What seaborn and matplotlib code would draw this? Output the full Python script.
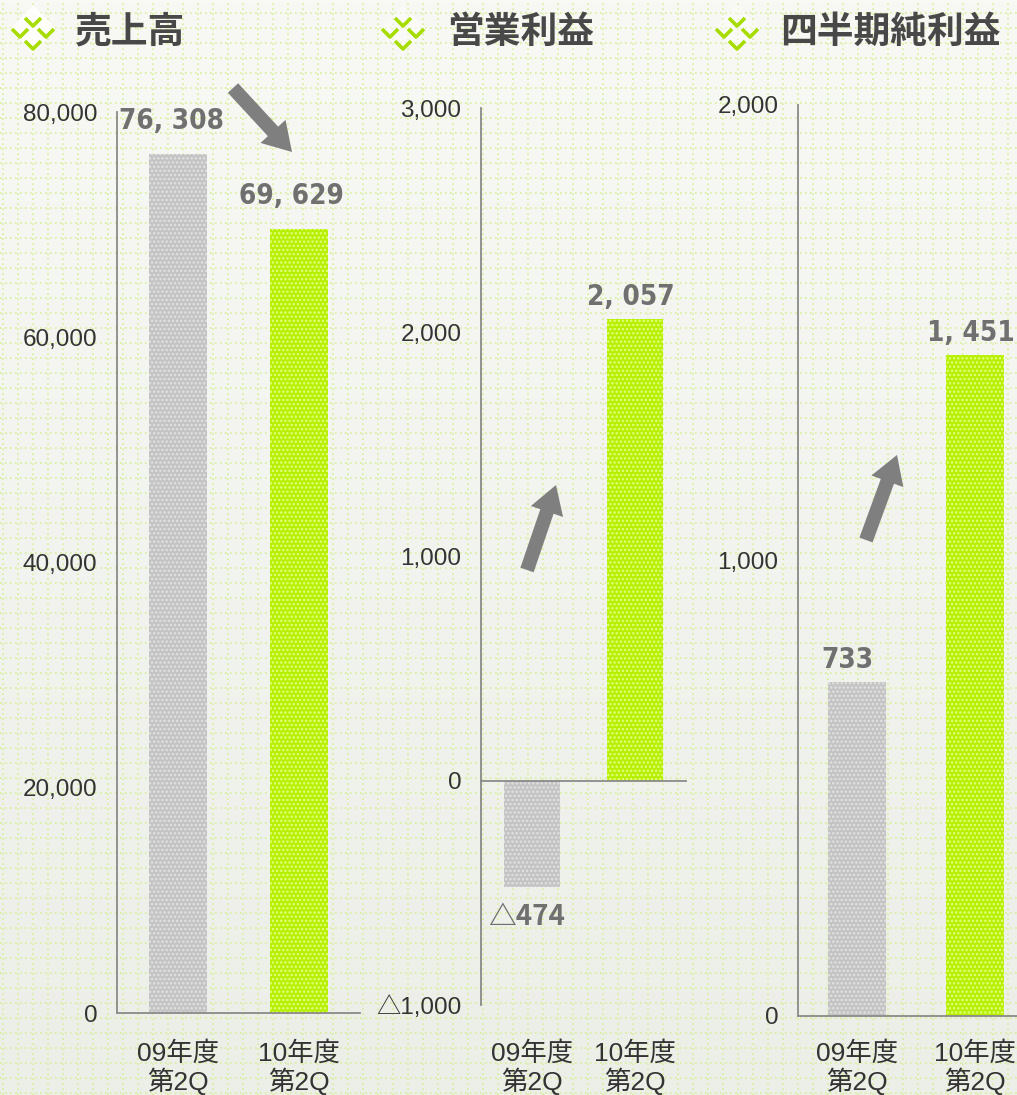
import numpy as np
import pandas as pd
import matplotlib
matplotlib.use("Agg")
import matplotlib.pyplot as plt
import matplotlib.transforms as mtransforms
from matplotlib import font_manager as fm
from matplotlib.patches import FancyArrow, Polygon
import seaborn as sns

# data
periods = ["09年度\n第2Q", "10年度\n第2Q"]
titles = ["売上高", "営業利益", "四半期純利益"]
sales = [76308, 69629]
op_income = [-474, 2057]
net_income = [733, 1451]
value_labels = [["76, 308", "69, 629"], ["△474", "2, 057"], ["733", "1, 451"]]
y_ticks = [[0, 20000, 40000, 60000, 80000], [-1000, 0, 1000, 2000, 3000], [0, 1000, 2000]]
y_tick_labels = [["0", "20,000", "40,000", "60,000", "80,000"],
                 ["△1,000", "0", "1,000", "2,000", "3,000"],
                 ["0", "1,000", "2,000"]]
y_limits = [(0, 80000), (-1000, 3000), (0, 2000)]

W, H = 1017, 1095
GRAY = "#c3c3c3"
GREEN = "#b6ef00"
SPINE = "#8a8a8a"

sns.set_style("white")
plt.rcParams["font.family"] = ["Liberation Sans", "Noto Sans CJK JP", "DejaVu Sans"]
plt.rcParams["hatch.linewidth"] = 1.2

# narrow font for the value labels if one is installed
narrow = None
for fam in ["Liberation Sans Narrow", "DejaVu Sans"]:
    try:
        path = fm.findfont(fm.FontProperties(family=fam, stretch="condensed", weight="bold"),
                           fallback_to_default=False)
    except ValueError:
        continue
    if "Narrow" in path or "Condensed" in path:
        narrow = fam
        break
if narrow:
    val_kw = dict(family=[narrow, "Noto Sans CJK JP"], fontstretch="condensed",
                  fontsize=20, fontweight="bold")
else:
    val_kw = dict(family=["Noto Sans CJK JP"], fontsize=20, fontweight="bold")
neg_kw = dict(family=["Noto Sans CJK JP"], fontsize=20, fontweight="bold")

fig = plt.figure(figsize=(W / 100, H / 100), dpi=100)


def box(x0, x1, ytop, ybot):
    return [x0 / W, 1 - ybot / H, (x1 - x0) / W, (ybot - ytop) / H]


# background with dotted green grid
bg = fig.add_axes([0, 0, 1, 1], zorder=0)
grad = np.linspace(0, 1, 256).reshape(-1, 1)
bg.imshow(grad, extent=(0, W, H, 0), aspect="auto",
          cmap=matplotlib.colors.LinearSegmentedColormap.from_list("bgc", ["#f8f9f5", "#eceee8"]))
for gx in np.arange(3, W, 15):
    bg.axvline(gx, color="#d8ef9c", lw=1.2, ls=(0, (1, 2)))
for gy in np.arange(13, H, 15):
    bg.axhline(gy, color="#d8ef9c", lw=1.2, ls=(0, (1, 2)))
bg.set_xlim(0, W)
bg.set_ylim(H, 0)
bg.axis("off")

layouts = [box(117, 360, 112, 1013), box(481, 686, 108, 1005), box(798, 1034, 105, 1016)]
bar_widths = [0.48, 0.55, 0.49]
series = [sales, op_income, net_income]
label_gaps = [19, 8, 8]
label_dx = [[-6, -8], [-6, -4], [-10, -4]]

for k in range(3):
    ax = fig.add_axes(layouts[k], zorder=2)
    ax.patch.set_visible(False)
    df = pd.DataFrame({"period": periods, "value": series[k]})
    sns.barplot(data=df, x="period", y="value", hue="period", palette=[GRAY, GREEN],
                width=bar_widths[k], saturation=1, legend=False, ax=ax)
    for p, c in zip(ax.patches, ["#e2e2e2", "#e4ff80"]):
        p.set_hatch("....")
        p.set_edgecolor(c)
        p.set_linewidth(0)

    ax.set_xlim(-0.5, 1.5)
    ax.set_ylim(*y_limits[k])
    ax.set_xlabel("")
    ax.set_ylabel("")
    for s in ["top", "right"]:
        ax.spines[s].set_visible(False)
    for s in ["left", "bottom"]:
        ax.spines[s].set_color(SPINE)
        ax.spines[s].set_linewidth(1.3)
    if y_limits[k][0] < 0:
        ax.spines["bottom"].set_position(("data", 0))

    ax.set_yticks(y_ticks[k], y_tick_labels[k])
    ax.yaxis.remove_overlapping_locs = False
    ax.set_yticks(list(y_limits[k]), minor=True)
    ax.tick_params(axis="y", which="major", length=0, pad=14, labelsize=17.5, labelcolor="#333333")
    ax.tick_params(axis="y", which="minor", direction="in", length=7, color=SPINE, width=1.3)

    ax.set_xticks([0, 1], ["", ""])
    ax.set_xticks([0.5, 1.5], minor=True)
    ax.tick_params(axis="x", which="major", length=0)
    ax.tick_params(axis="x", which="minor", direction="in", length=8, color=SPINE, width=1.3)

    trans = mtransforms.blended_transform_factory(ax.transData, fig.transFigure)
    for i, lab in enumerate(periods):
        ax.text(i, 1 - 1068 / H, lab, transform=trans, ha="center", va="center",
                fontsize=19, color="#333333", linespacing=1.05)

    for i, v in enumerate(series[k]):
        if v >= 0:
            ax.annotate(value_labels[k][i], xy=(i, v), xytext=(label_dx[k][i], label_gaps[k]),
                        textcoords="offset pixels", ha="center", va="bottom",
                        color="#707070", **val_kw)
        else:
            ax.annotate(value_labels[k][i], xy=(i, v), xytext=(label_dx[k][i], -16),
                        textcoords="offset pixels", ha="center", va="top",
                        color="#707070", **neg_kw)

# overlay: titles, icons, arrows
ov = fig.add_axes([0, 0, 1, 1], zorder=5)
ov.patch.set_visible(False)
ov.set_xlim(0, W)
ov.set_ylim(H, 0)
ov.axis("off")

icon_x = [33, 403, 737]
title_x = [75, 447, 780]
for k in range(3):
    cx = icon_x[k]
    ov.add_patch(Polygon([(cx, 5), (cx + 23, 29), (cx, 53), (cx - 23, 29)],
                         closed=True, color="white", alpha=0.9 if k == 0 else 0.45, lw=0))
    for dx, dy in [(0, 22), (-13, 33), (13, 33), (0, 45)]:
        ov.plot([cx + dx - 8, cx + dx, cx + dx + 8], [dy - 4, dy + 4, dy - 4],
                color="#a6dc00", lw=2.6, solid_capstyle="butt")
    ov.text(title_x[k], 32, titles[k], ha="left", va="center", fontsize=26.5,
            fontweight="bold", color="#484848", family=["Noto Sans CJK JP"])

arrows = [((233, 88), (292, 152)), ((527, 570), (556, 485)), ((866, 540), (897, 455))]
for (x0, y0), (x1, y1) in arrows:
    ov.add_patch(FancyArrow(x0, y0, x1 - x0, y1 - y0, width=14, head_width=34, head_length=28,
                            length_includes_head=True, color="#7f7f7f", lw=0))

fig.savefig("out.png", dpi=100)
